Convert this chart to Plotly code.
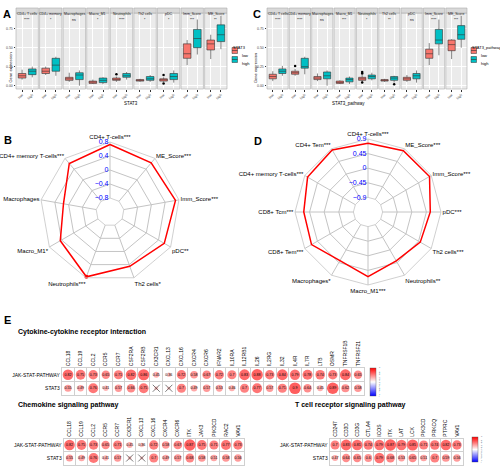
import plotly.graph_objects as go

W, H = 500, 467
def fx(x): return x / W
def fy(y): return 1 - y / H

FONT = "Liberation Sans, Arial, sans-serif"
LOW_COL, HIGH_COL = "#F8766D", "#00BFC4"

# ---------------- Panel A / C data (box stats: lower whisker, q1, median, q3, upper whisker)
facets = ["CD4+ T cells", "CD4+ memory", "Macrophages", "Macro_M1", "Neutrophils",
          "Th2 cells", "pDC", "Imm_Score", "ME_Score"]
groups = ["low", "high"]
sig_A = ["****", "*", "ns", "*", "****", "*", "*", "***", "**"]
sig_C = ["****", "****", "ns", "***", "*", "**", "ns", "****", "***"]

A_low = [(0.08, 0.10, 0.13, 0.16, 0.21), (0.14, 0.16, 0.19, 0.23, 0.25), (0.05, 0.07, 0.09, 0.11, 0.17),
         (0.02, 0.03, 0.05, 0.06, 0.08), (0.05, 0.07, 0.08, 0.10, 0.12), (0.05, 0.06, 0.07, 0.08, 0.09),
         (0.05, 0.06, 0.08, 0.09, 0.11), (0.27, 0.36, 0.42, 0.55, 0.60), (0.35, 0.47, 0.55, 0.60, 0.67)]
A_high = [(0.11, 0.145, 0.19, 0.22, 0.25), (0.13, 0.19, 0.27, 0.36, 0.38), (0.00, 0.08, 0.14, 0.17, 0.20),
          (0.02, 0.04, 0.07, 0.10, 0.11), (0.08, 0.11, 0.13, 0.16, 0.18), (0.05, 0.07, 0.09, 0.12, 0.14),
          (0.04, 0.08, 0.12, 0.16, 0.20), (0.41, 0.50, 0.62, 0.74, 0.87), (0.48, 0.58, 0.67, 0.80, 0.92)]
A_low_out = [[], [], [], [], [0.15], [], [0.03, 0.14], [], []]
A_high_out = [[], [], [], [], [], [], [], [], []]

C_low = [(0.06, 0.09, 0.12, 0.15, 0.19), (0.13, 0.15, 0.17, 0.19, 0.22), (0.06, 0.08, 0.10, 0.12, 0.16),
         (0.02, 0.03, 0.04, 0.06, 0.07), (0.04, 0.07, 0.09, 0.11, 0.14), (0.05, 0.06, 0.07, 0.08, 0.09),
         (0.05, 0.07, 0.09, 0.11, 0.14), (0.27, 0.36, 0.42, 0.48, 0.56), (0.35, 0.46, 0.54, 0.60, 0.61)]
C_high = [(0.13, 0.16, 0.19, 0.22, 0.26), (0.15, 0.23, 0.25, 0.36, 0.38), (0.00, 0.09, 0.13, 0.18, 0.20),
          (0.02, 0.05, 0.08, 0.10, 0.12), (0.07, 0.09, 0.12, 0.14, 0.17), (0.04, 0.07, 0.10, 0.12, 0.13),
          (0.04, 0.09, 0.13, 0.16, 0.20), (0.40, 0.55, 0.60, 0.74, 0.87), (0.50, 0.61, 0.67, 0.79, 0.92)]
C_low_out = [[], [0.26], [], [], [0.16, 0.18, 0.04], [], [], [], []]
C_high_out = [[], [], [], [], [], [0.02], [], [], []]

y_ticks = [0, 0.25, 0.5, 0.75]
y_ticktext = ["0.00", "0.25", "0.50", "0.75"]

# ---------------- Radar data
B_labels = ["CD4+ T-cells***", "ME_Score***", "Imm_Score***", "pDC**", "Th2 cells*", "Neutrophils***",
            "Macro_M1*", "Macrophages", "CD4+ memory T-cells***"]
B_values = [0.73, 0.63, 0.70, 0.59, 0.45, 0.77, 0.44, 0.15, 0.61]
B_ticks = [-0.8, -0.4, 0, 0.4, 0.8]
B_ticktext = ["\u22120.8", "\u22120.4", "0", "0.4", "0.8"]

D_labels = ["CD4+ T-cells***", "ME_Score***", "Imm_Score***", "pDC***", "Th2 cells***", "Neutrophils**",
            "Macro_M1***", "Macrophages*", "CD8+ Tem***", "CD8+ Tcm***", "CD4+ memory T-cells***", "CD4+ Tem***"]
D_values = [0.77, 0.83, 0.84, 0.57, 0.51, 0.39, 0.64, 0.38, 0.66, 0.63, 0.80, 0.86]
D_ticks = [-0.9, -0.45, 0, 0.45, 0.9]
D_ticktext = ["\u22120.9", "\u22120.45", "0", "0.45", "0.9"]

# ---------------- Panel E data
rows = ["JAK-STAT-PATHWAY", "STAT3"]
cyto_genes = ["CCL18", "CCL19", "CCL2", "CCR5", "CCR7", "CSF2RA", "CSF2RB", "CX3CR1", "CXCL13", "CXCL16",
              "CXCR4", "CXCR6", "IFNAR2", "IL10RA", "IL12RB1", "IL26", "IL2RG", "IL32", "IL4R", "IL7R",
              "LTB", "OSMR", "TNFRSF1B", "TNFRSF21"]
cyto_jak = [0.82, 0.75, 0.73, 0.65, 0.71, 0.82, 0.86, 0.45, 0.36, 0.72, 0.58, 0.67, 0.72, 0.7, 0.83,
            0.88, 0.73, 0.84, 0.79, 0.78, 0.74, 0.73, 0.84, 0.65]
cyto_stat3 = [0.55, 0.49, 0.76, 0.41, 0.57, 0.66, 0.75, 0.3, 0.28, 0.7, 0.49, 0.57, 0.53, 0.46, 0.7,
              0.77, 0.57, 0.71, 0.9, 0.64, 0.45, 0.89, 0.62, 0.58]
cyto_stat3_ns = ["CX3CR1", "CXCL13"]

chemo_genes = ["CCL18", "CCL19", "CCL2", "CCR5", "CCR7", "CX3CR1", "CXCL13", "CXCL16", "CXCR4", "CXCR6",
               "ITK", "JAK3", "PIK3CD", "RAC2", "VAV1"]
chemo_jak = [0.82, 0.75, 0.73, 0.65, 0.71, 0.45, 0.36, 0.72, 0.58, 0.67, 0.87, 0.75, 0.71, 0.77, 0.73]
chemo_stat3 = [0.55, 0.49, 0.76, 0.41, 0.57, 0.3, 0.28, 0.7, 0.49, 0.57, 0.68, 0.58, 0.51, 0.58, 0.56]
chemo_stat3_ns = ["CX3CR1", "CXCL13"]

tcell_genes = ["CD247", "CD3D", "CD3G", "CTLA4", "ICOS", "ITK", "LAT", "LCK", "PIK3CD", "PRKCQ", "PTPRC", "VAV1"]
tcell_jak = [0.7, 0.83, 0.81, 0.74, 0.79, 0.87, 0.79, 0.85, 0.71, 0.74, 0.82, 0.73]
tcell_stat3 = [0.47, 0.64, 0.65, 0.6, 0.79, 0.68, 0.53, 0.65, 0.51, 0.7, 0.59, 0.56]
tcell_stat3_ns = []

cbar_ticks = [-1, -0.6, -0.2, 0.2, 0.6, 1]
CSCALE = [[0, "#0000FF"], [0.5, "#FFFFFF"], [1, "#FF0000"]]

fig = go.Figure()
layout = {}
shapes = []
annotations = []

def axname(n, kind):
    return kind + ("" if n == 1 else str(n))

def dref(n, kind):
    return kind + ("" if n == 1 else str(n)) + " domain"

def ann(x, y, text, size, **kw):
    d = dict(x=fx(x), y=fy(y), xref="paper", yref="paper", text=text, showarrow=False,
             font=dict(size=size, family=FONT, color=kw.pop("color", "black")))
    d.update(kw)
    annotations.append(d)

# ---------------- Boxplot panels
def box_panel(start_n, left, right, lows, highs, low_out, high_out, sigs):
    n_f = len(facets)
    gap = 1.2
    w = (right - left - gap * (n_f - 1)) / n_f
    for i in range(n_f):
        n = start_n + i
        x0 = left + i * (w + gap)
        layout[axname(n, "xaxis")] = dict(
            domain=[fx(x0), fx(x0 + w)], anchor=axname(n, "y"), type="category", automargin=False,
            categoryarray=groups, range=[-0.6, 1.6], tickangle=-45, showgrid=True,
            gridcolor="white", gridwidth=0.8, ticks="outside", ticklen=1.5, tickcolor="#333333",
            tickwidth=0.5, tickfont=dict(size=3.5, color="#4D4D4D", family=FONT), zeroline=False)
        layout[axname(n, "yaxis")] = dict(
            domain=[fy(89), fy(13)], anchor=axname(n, "x"), range=[-0.044, 0.956], automargin=False,
            tickvals=y_ticks, ticktext=y_ticktext, showticklabels=(i == 0),
            ticks="outside" if i == 0 else "", ticklen=1.5, tickcolor="#333333", tickwidth=0.5,
            tickfont=dict(size=3.5, color="#4D4D4D", family=FONT), gridcolor="white",
            gridwidth=0.8, zeroline=False)
        shapes.append(dict(type="rect", xref=dref(n, "x"), yref=dref(n, "y"), x0=0, x1=1, y0=0, y1=1,
                           fillcolor="#EBEBEB", line=dict(width=0), layer="below"))
        shapes.append(dict(type="rect", xref=dref(n, "x"), yref=dref(n, "y"), x0=0, x1=1, y0=0, y1=1,
                           fillcolor="rgba(0,0,0,0)", line=dict(width=0.6, color="#ABABAB"), layer="above"))
        shapes.append(dict(type="rect", xref=dref(n, "x"), yref="paper", x0=0, x1=1, y0=fy(13), y1=fy(8),
                           fillcolor="#D9D9D9", line=dict(width=0.6, color="#ABABAB")))
        annotations.append(dict(xref=dref(n, "x"), yref="paper", x=0.5, y=fy(10.5), text=facets[i],
                                showarrow=False, font=dict(size=3.5, family=FONT, color="#1A1A1A")))
        annotations.append(dict(xref=dref(n, "x"), yref="paper", x=0.5, y=fy(15.5), text=sigs[i],
                                showarrow=False, font=dict(size=3.5, family=FONT, color="black")))
        for g, stats, col, outs in (("low", lows[i], LOW_COL, low_out[i]), ("high", highs[i], HIGH_COL, high_out[i])):
            lf, q1, med, q3, uf = stats
            fig.add_trace(go.Box(x=[g], lowerfence=[lf], q1=[q1], median=[med], q3=[q3], upperfence=[uf],
                                 fillcolor=col, line=dict(color="#333333", width=0.6), width=0.75,
                                 whiskerwidth=0, boxpoints=False, showlegend=False,
                                 xaxis=axname(n, "x"), yaxis=axname(n, "y"), hoverinfo="skip"))
            if outs:
                fig.add_trace(go.Scatter(x=[g] * len(outs), y=outs, mode="markers",
                                         marker=dict(color="black", size=2.5), showlegend=False,
                                         xaxis=axname(n, "x"), yaxis=axname(n, "y")))

box_panel(1, 16, 227, A_low, A_high, A_low_out, A_high_out, sig_A)
box_panel(10, 267, 467, C_low, C_high, C_low_out, C_high_out, sig_C)

# axis titles / legends for A and C
ann(5, 51, "Gene expression", 4, textangle=-90)
ann(122, 99, "STAT3", 4.5)
ann(255, 51, "Gene expression", 4, textangle=-90)
ann(367, 99, "STAT3_pathway", 4.5)

def manual_legend(x, title):
    ann(x, 43, title, 4, xanchor="left")
    for j, (g, col) in enumerate((("low", LOW_COL), ("high", HIGH_COL))):
        yc = 50.5 + j * 9
        shapes.append(dict(type="rect", xref="paper", yref="paper", x0=fx(x + 1), x1=fx(x + 6.5),
                           y0=fy(yc + 3), y1=fy(yc - 3), fillcolor=col, line=dict(color="#333333", width=0.5)))
        shapes.append(dict(type="line", xref="paper", yref="paper", x0=fx(x + 1), x1=fx(x + 6.5),
                           y0=fy(yc), y1=fy(yc), line=dict(color="#333333", width=0.6)))
        ann(x + 9, yc, g, 4, xanchor="left")

manual_legend(231, "STAT3")
manual_legend(470, "STAT3_pathway")

# ---------------- Radar panels
def radar(key, labels, values, ticks, ticktext, dom_x, dom_y):
    layout[key] = dict(
        domain=dict(x=dom_x, y=dom_y), bgcolor="white", hole=0.2, gridshape="linear",
        angularaxis=dict(type="category", categoryarray=labels, categoryorder="array",
                         direction="clockwise", rotation=90,
                         showline=True, linecolor="#C4C4C4", linewidth=0.8, gridcolor="#C4C4C4",
                         gridwidth=0.8, ticks="", tickfont=dict(size=6, family=FONT, color="black")),
        radialaxis=dict(type="linear", range=[ticks[0], ticks[-1]], autorange=False, tickvals=ticks,
                        ticktext=ticktext, showticklabels=True, angle=90, tickangle=90,
                        side="counterclockwise", ticks="", showline=False, gridcolor="#C4C4C4",
                        gridwidth=0.8, tickfont=dict(color="#0000FF", size=7, family=FONT)))
    fig.add_trace(go.Scatterpolar(r=values + [values[0]], theta=labels + [labels[0]], subplot=key,
                                  mode="lines+markers", line=dict(color="#FF0000", width=1.5),
                                  marker=dict(color="#FF0000", size=4), showlegend=False))

radar("polar", B_labels, B_values, B_ticks, B_ticktext, [fx(40), fx(180)], [fy(282), fy(142)])
radar("polar2", D_labels, D_values, D_ticks, D_ticktext, [fx(295), fx(441)], [fy(285), fy(139)])

# ---------------- Panel E matrices
def corr_matrix(n, genes, jak, stat3, ns, x_left, x_right, y_top, y_bot, cax):
    layout[axname(n, "xaxis")] = dict(
        domain=[fx(x_left), fx(x_right)], anchor=axname(n, "y"), type="category", categoryarray=genes,
        range=[-0.5, len(genes) - 0.5], side="top", tickangle=-90, tickson="boundaries", ticks="",
        showgrid=True, gridcolor="#D0D0D0", gridwidth=0.6, showline=True, mirror=True, automargin=False,
        linecolor="#D0D0D0", linewidth=0.6, zeroline=False,
        tickfont=dict(size=5, family=FONT, color="black"))
    layout[axname(n, "yaxis")] = dict(
        domain=[fy(y_bot), fy(y_top)], anchor=axname(n, "x"), type="category", automargin=False,
        categoryarray=rows[::-1], range=[-0.5, 1.5], tickson="boundaries", ticks="", showgrid=True,
        gridcolor="#D0D0D0", gridwidth=0.6, showline=True, mirror=True, linecolor="#D0D0D0",
        linewidth=0.6, zeroline=False, tickfont=dict(size=5, family=FONT, color="black"))
    xs, ys, vals, txt = [], [], [], []
    for r_name, vec in ((rows[0], jak), (rows[1], stat3)):
        for g, v in zip(genes, vec):
            xs.append(g); ys.append(r_name); vals.append(v)
            txt.append("" if (r_name == rows[1] and g in ns) else f"{v:g}")
    fig.add_trace(go.Scatter(
        x=xs, y=ys, mode="markers+text", text=txt, textposition="middle center",
        textfont=dict(size=3.6, family=FONT, color="black"),
        marker=dict(size=[13 * abs(v) for v in vals], color=vals, coloraxis=cax, line=dict(width=0)),
        xaxis=axname(n, "x"), yaxis=axname(n, "y"), showlegend=False))
    if ns:
        fig.add_trace(go.Scatter(x=ns, y=[rows[1]] * len(ns), mode="markers",
                                 marker=dict(symbol="x-thin-open", size=7, color="#222222",
                                             line=dict(color="#222222", width=0.6)),
                                 xaxis=axname(n, "x"), yaxis=axname(n, "y"), showlegend=False))

corr_matrix(19, cyto_genes, cyto_jak, cyto_stat3, cyto_stat3_ns, 61.7, 364.3, 368, 395, "coloraxis")
corr_matrix(20, chemo_genes, chemo_jak, chemo_stat3, chemo_stat3_ns, 63.5, 244, 438.5, 464.5, "coloraxis3")
corr_matrix(21, tcell_genes, tcell_jak, tcell_stat3, tcell_stat3_ns, 329.5, 462.5, 438.5, 464.5, "coloraxis2")

def cbar(x, y_top, length):
    return dict(x=fx(x), xanchor="left", y=fy(y_top), yanchor="top", lenmode="pixels", len=length,
                thickness=6, outlinewidth=0.4, outlinecolor="#555555", tickvals=cbar_ticks,
                ticks="", tickfont=dict(size=2.5, family=FONT), tickangle=-90, xpad=0, ypad=0)

layout["coloraxis"] = dict(colorscale=CSCALE, cmin=-1, cmax=1, colorbar=cbar(370, 368, 28))
layout["coloraxis2"] = dict(colorscale=CSCALE, cmin=-1, cmax=1, colorbar=cbar(472, 437, 25))
layout["coloraxis3"] = dict(colorscale=CSCALE, cmin=-1, cmax=1, showscale=False)

# E titles and panel letters
ann(16, 338, "<b>Cytokine-cytokine receptor interaction</b>", 7, xanchor="left")
ann(16, 411, "<b>Chemokine signaling pathway</b>", 7, xanchor="left")
ann(293, 411, "<b>T cell receptor signaling pathway</b>", 7, xanchor="left")
ann(0.5, 6, "<b>A</b>", 11, xanchor="left")
ann(250.5, 6, "<b>C</b>", 11, xanchor="left")
ann(1.5, 132, "<b>B</b>", 11, xanchor="left")
ann(252, 133, "<b>D</b>", 11, xanchor="left")
ann(1.5, 327.5, "<b>E</b>", 11, xanchor="left")

fig.update_layout(width=W, height=H, margin=dict(l=0, r=0, t=0, b=0, autoexpand=False),
                  paper_bgcolor="white", plot_bgcolor="white", showlegend=False, font=dict(family=FONT),
                  shapes=shapes, annotations=annotations, **layout)

fig.write_html("out.html", config={"displayModeBar": False},
               post_script="document.body.style.margin='0px';document.body.style.overflow='hidden';")
